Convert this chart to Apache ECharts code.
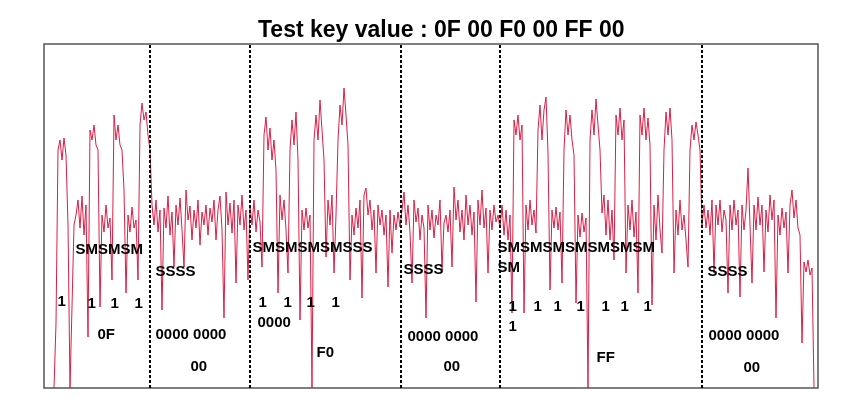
<!DOCTYPE html>
<html>
<head>
<meta charset="utf-8">
<title>Test key value</title>
<script src="https://cdn.jsdelivr.net/npm/echarts@6/dist/echarts.min.js"></script>
<style>
html, body { margin: 0; padding: 0; background: #fff; }
#main { width: 848px; height: 397px; }
</style>
</head>
<body>
<div id="main"></div>
<script>
// key bytes shown in the title
var keyBytes = ['0F', '00', 'F0', '00', 'FF', '00'];

// trace starts at this sample index (2 samples ~ 4px)
var startSample = 5;

// power trace, one block per key byte
var seg0F = [0, 65, 238, 248, 228, 250, 233, 163, 0, 0, 163, 173, 188, 160, 192, 153, 183, 51,
	258, 248, 263, 243, 238, 81, 173, 156, 183, 160, 170, 108, 273, 248, 263, 243, 238, 198, 95,
	173, 156, 181, 160, 168, 108, 263, 285, 268, 276, 253, 238];
var seg00a = [183, 163, 188, 156, 178, 78, 180, 160, 192, 153, 176, 121, 183, 163, 190, 158, 121,
	198, 168, 182, 148, 178, 160, 188, 143, 176, 163, 183, 153, 180, 166, 188, 148, 178, 192, 158,
	70, 196, 163, 185, 155, 188, 105, 183, 163, 193, 158, 178, 108, 183];
var segF0 = [163, 188, 156, 178, 166, 121, 253, 271, 238, 260, 228, 248, 218, 95, 193, 168, 188,
	158, 115, 238, 268, 243, 276, 228, 68, 178, 158, 180, 160, 173, 0, 248, 273, 248, 288, 258, 228,
	131, 188, 163, 193, 115, 173, 248, 283, 263, 300, 273, 243, 108, 173, 153, 180, 160, 188, 90,
	193, 200, 173, 188, 158, 178, 115, 183, 163, 178, 153, 173, 101, 178, 135, 173, 158, 176, 161];
var seg00b = [178, 196, 163, 183, 156, 105, 188, 166, 180, 148, 173, 160, 70, 183, 158, 178, 150,
	173, 163, 188, 118, 165, 173, 156, 178, 121, 201, 168, 188, 156, 178, 148, 193, 163, 183, 153,
	176, 86, 188, 163, 198, 160, 180, 115, 178, 158, 183, 166, 173, 160];
var segFF = [183, 153, 178, 148, 173, 75, 268, 253, 273, 248, 263, 75, 183, 158, 188, 163, 178,
	155, 258, 283, 248, 278, 291, 235, 98, 178, 160, 181, 158, 176, 105, 238, 278, 253, 273, 248,
	233, 85, 173, 151, 175, 156, 170, 0, 248, 278, 253, 289, 263, 238, 175, 193, 153, 188, 148, 178,
	128, 273, 253, 280, 248, 268, 115, 183, 158, 188, 151, 176, 95, 273, 253, 280, 248, 270, 243, 83,
	183, 148, 193, 158, 135, 238, 276, 253, 280, 248, 115, 178, 153, 188, 158, 173, 148, 121, 238,
	263, 248, 266, 253, 238, 163];
var seg00c = [183, 160, 178, 153, 188, 115, 183, 163, 188, 156, 178, 168, 95, 183, 158, 188, 163,
	178, 91, 183, 158, 178, 220, 163, 105, 183, 158, 191, 163, 183, 116, 178, 156, 193, 168, 188, 70,
	173, 153, 180, 160, 176, 115, 183, 198, 170, 188, 160, 153, 45, 126, 116, 128, 113, 120, 0];

// block boundaries (sample index)
var boundaries = [53, 103, 178.5, 228, 329];

// bit annotations: text, sample, level
var notes = [
	['SMSMSM', 15.5, 138], ['1', 6.5, 86], ['1', 21.5, 84], ['1', 33, 84], ['1', 45, 84], ['0F', 26.5, 53],
	['SSSS', 55.5, 116], ['0000 0000', 55.5, 53], ['00', 73, 21],
	['SMSMSMSMSSS', 104, 140], ['1', 107, 85], ['1', 119.5, 85], ['1', 131, 85], ['1', 143.5, 85],
	['0000', 106.5, 65], ['F0', 136, 35],
	['SSSS', 179.5, 118], ['0000 0000', 181.5, 51], ['00', 199.5, 21],
	['SMSMSMSMSMSMSM', 226.5, 140], ['SM', 226.5, 120],
	['1', 232, 81], ['1', 244.5, 81], ['1', 254.5, 81], ['1', 266, 81], ['1', 278.5, 81], ['1', 288, 81],
	['1', 299.5, 81], ['1', 232, 61], ['FF', 276, 30],
	['SSSS', 331.5, 116], ['0000 0000', 332, 52], ['00', 349.5, 20]
];

var trace = seg0F.concat(seg00a, segF0, seg00b, segFF, seg00c);
var traceData = [];
for (var i = 0; i < trace.length; i++) {
	traceData.push([startSample + i, trace[i]]);
}
var noteData = [];
for (var j = 0; j < notes.length; j++) {
	noteData.push({ name: notes[j][0], value: [notes[j][1], notes[j][2]] });
}
var markData = [];
for (var k = 0; k < boundaries.length; k++) {
	markData.push({ xAxis: boundaries[k] });
}

var myChart = echarts.init(document.getElementById('main'));
var option = {
	animation: false,
	backgroundColor: '#fff',
	title: {
		text: 'Test key value : ' + keyBytes.join(' '),
		left: 258,
		top: 19,
		padding: 0,
		textStyle: {
			fontFamily: 'Liberation Sans, Arial, sans-serif',
			fontSize: 23,
			fontWeight: 'bold',
			color: '#000'
		}
	},
	grid: {
		left: 44,
		right: 30,
		top: 44,
		bottom: 9,
		show: true,
		borderColor: '#555',
		borderWidth: 1.5,
		backgroundColor: 'transparent'
	},
	xAxis: {
		type: 'value',
		min: 0,
		max: 387,
		show: false
	},
	yAxis: {
		type: 'value',
		min: 0,
		max: 344,
		show: false
	},
	series: [
		{
			name: 'trace',
			type: 'line',
			data: traceData,
			showSymbol: false,
			silent: true,
			lineStyle: { color: '#dc1e46', width: 1 },
			markLine: {
				silent: true,
				symbol: ['none', 'none'],
				label: { show: false },
				lineStyle: { color: '#000', width: 2, type: [3, 2] },
				data: markData
			}
		},
		{
			name: 'notes',
			type: 'scatter',
			data: noteData,
			symbolSize: 1,
			z: 5,
			silent: true,
			itemStyle: { color: 'rgba(0,0,0,0)', opacity: 1 },
			label: {
				show: true,
				position: 'right',
				distance: 0,
				formatter: '{b}',
				fontFamily: 'Liberation Sans, Arial, sans-serif',
				fontSize: 15,
				fontWeight: 'bold',
				color: '#000',
				opacity: 1
			}
		}
	]
};
myChart.setOption(option);
</script>
</body>
</html>
